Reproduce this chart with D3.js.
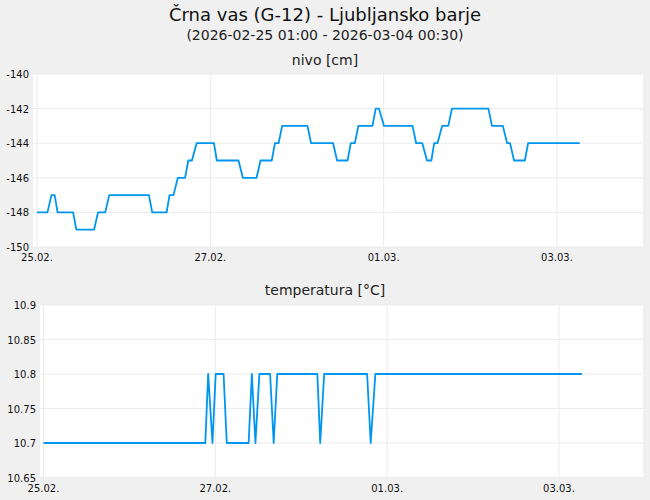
<!DOCTYPE html>
<html><head><meta charset="utf-8">
<script src="https://cdn.jsdelivr.net/npm/d3@7"></script>
<style>body{margin:0;background:#f0f0f0;font-family:"DejaVu Sans",sans-serif}</style>
</head><body><svg id="c" width="650" height="500"></svg>
<script>
const tickHours=[0,48,96,144];
const tickLabels=["25.02.","27.02.","01.03.","03.03."];
const nivoHours=[0,2.9,4,4.9,5.7,10,10.9,15.8,16.9,18.9,20,31,31.9,35.9,36.7,37.8,39,41,41.9,42.9,44.2,49,49.8,55.8,57,60.8,61.9,65,65.9,66.9,67.9,74.9,75.9,82,83.1,86,86.9,88,89,92.9,93.8,94.7,96.1,104,105,106.7,108,109.2,110,110.9,112.2,113.9,114.9,125,126,129,130.2,131,132.1,135.1,136,150.3];
const nivoValues=[-148,-148,-147,-147,-148,-148,-149,-149,-148,-148,-147,-147,-148,-148,-147,-147,-146,-146,-145,-145,-144,-144,-145,-145,-146,-146,-145,-145,-144,-144,-143,-143,-144,-144,-145,-145,-144,-144,-143,-143,-142,-142,-143,-143,-144,-144,-145,-145,-144,-144,-143,-143,-142,-142,-143,-143,-144,-144,-145,-145,-144,-144];
const tempHours=[0,45.2,46,47.2,48.1,50.3,51.2,57.3,58.2,59.2,60.3,63.3,64.3,65.3,76.5,77.3,78.4,90.4,91.4,92.7,150.4];
const tempValues=[10.7,10.7,10.8,10.7,10.8,10.8,10.7,10.7,10.8,10.7,10.8,10.8,10.7,10.8,10.8,10.7,10.8,10.8,10.7,10.8,10.8];
const nivoTicks=[-150,-148,-146,-144,-142,-140];
const tempTicks=[10.65,10.7,10.75,10.8,10.85,10.9];

const svg=d3.select("#c");
const color="#0096f0";
svg.append("text").attr("x",325).attr("y",21).attr("text-anchor","middle").attr("font-size",18).attr("fill","#111").text("Črna vas (G-12) - Ljubljansko barje");
svg.append("text").attr("x",325).attr("y",40).attr("text-anchor","middle").attr("font-size",14).attr("fill","#222").text("(2026-02-25 01:00 - 2026-03-04 00:30)");

function panel(o){
  const g=svg.append("g");
  g.append("text").attr("x",o.cx).attr("y",o.titleY).attr("text-anchor","middle").attr("font-size",14).attr("fill","#222").text(o.title);
  g.append("rect").attr("x",o.x0).attr("y",o.y0).attr("width",o.x1-o.x0).attr("height",o.y1-o.y0).attr("fill","#fff");
  const x=d3.scaleLinear().domain([0,144]).range([o.tx0,o.tx1]);
  const y=d3.scaleLinear().domain(o.dom).range([o.y1,o.y0]);
  o.yt.forEach(v=>{
    g.append("line").attr("x1",o.x0).attr("x2",o.x1).attr("y1",y(v)).attr("y2",y(v)).attr("stroke","#ebebeb");
    g.append("text").attr("x",o.x0-4).attr("y",y(v)+4).attr("text-anchor","end").attr("font-size",10).attr("fill","#111").text(v);
  });
  tickHours.forEach((h,i)=>{
    g.append("line").attr("x1",x(h)).attr("x2",x(h)).attr("y1",o.y0).attr("y2",o.y1).attr("stroke","#ebebeb");
    g.append("text").attr("x",x(h)).attr("y",o.y1+14).attr("text-anchor","middle").attr("font-size",10).attr("fill","#111").text(tickLabels[i]);
  });
  const line=d3.line().x((d,i)=>x(o.h[i])).y(d=>y(d));
  g.append("path").attr("d",line(o.v)).attr("fill","none").attr("stroke",color).attr("stroke-width",1.8).attr("stroke-linejoin","round");
}
panel({title:"nivo [cm]",titleY:65,cx:325,x0:33,x1:643,y0:74,y1:247,tx0:37,tx1:557,dom:[-150,-140],yt:nivoTicks,h:nivoHours,v:nivoValues});
panel({title:"temperatura [°C]",titleY:295,cx:325,x0:40,x1:643,y0:305,y1:477.5,tx0:43.5,tx1:559,dom:[10.65,10.9],yt:tempTicks,h:tempHours,v:tempValues});
</script></body></html>
